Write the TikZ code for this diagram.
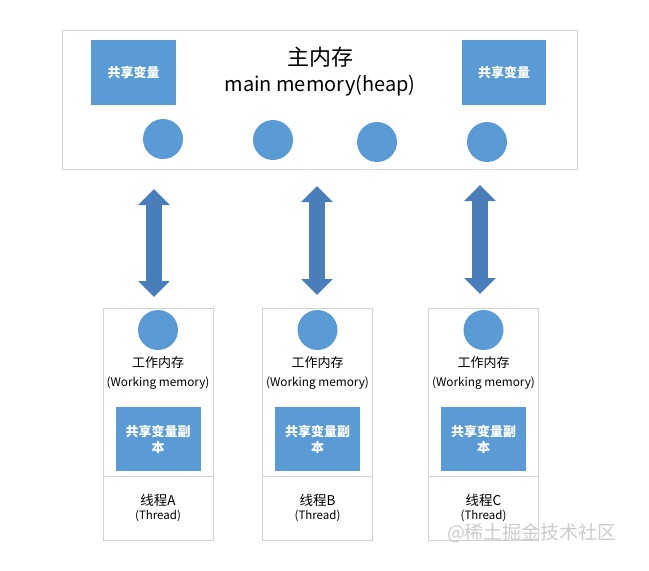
\documentclass[tikz,border=0pt]{standalone}
\usepackage{fontspec}
\setmainfont{Noto Sans CJK SC}
\usepackage{xcolor}
\usetikzlibrary{arrows.meta}
\definecolor{cellblue}{HTML}{5B9BD5}
\definecolor{arrowblue}{HTML}{4A7EBB}
\definecolor{boxgray}{HTML}{D2D2D2}
\newcommand{\fsz}[2]{\fontsize{#1}{#2}\selectfont}

\begin{document}
\begin{tikzpicture}[x=1pt,y=-1pt,
    frame/.style={draw=boxgray,line width=0.8pt},
    share/.style={fill=cellblue,text=white,align=center,inner sep=0pt},
    var/.style={circle,fill=cellblue,minimum size=40pt,inner sep=0pt},
    txt/.style={inner sep=0pt,align=center},
    biarrow/.style={arrowblue,line width=16pt,
      {Triangle[width=31pt,length=16pt]}-{Triangle[width=31pt,length=16pt]}}]
  \useasboundingbox (0,0) rectangle (649,571);
  % main memory
  \node[frame,minimum width=515pt,minimum height=139pt] (main) at (319.5,99.5) {};
  \node[txt,font=\fsz{22}{22}] (title) at (320,57) {主内存};
  \node[txt,font=\fsz{20}{20}] (heap) at (320,86) {main memory(heap)};
  \node[share,minimum width=85pt,minimum height=65pt,font=\fsz{13}{15}\bfseries] (sl) at (133.5,72.5) {共享变量};
  \node[share,minimum width=84pt,minimum height=65pt,font=\fsz{13}{15}\bfseries] (sr) at (504,72.5) {共享变量};
  \foreach \i/\vx/\vy in {1/163/139,2/273/140,3/377/142,4/487/142}{
    \node[var] (v\i) at (\vx,\vy) {};
  }
  % threads
  \foreach \n/\cx in {A/158,B/317.5,C/483.5}{
    \node[frame,minimum width=110pt,minimum height=232pt] (t\n) at (\cx,424) {};
    \node[var] (w\n) at (\cx,330) {};
    \node[txt,font=\fsz{13}{13}] (wt\n) at (\cx,363) {工作内存};
    \node[txt,font=\fsz{11.8}{12}] (we\n) at (\cx,383) {(Working memory)};
    \node[share,minimum width=85pt,minimum height=64pt,font=\fsz{13}{16}\bfseries] (c\n) at (\cx,439) {共享变量副\\本};
    \draw[frame] (t\n.west |- 0,476) -- (t\n.east |- 0,476);
    \node[txt,font=\fsz{13.5}{13.5}] (n\n) at (\cx,500) {线程\n};
    \node[txt,font=\fsz{11.5}{11.5}] (th\n) at (\cx,516) {(Thread)};
  }
  % arrows
  \foreach \n/\ax/\t/\b in {A/154/189/297,B/317/186/295,C/480/185/294}{
    \coordinate (u\n) at (\ax,\t);
    \coordinate (d\n) at (\ax,\b);
    \draw[biarrow] (u\n) -- (d\n);
  }
  \node[txt,text=gray!40,font=\fsz{19}{19}] (mark) at (532,533) {@稀土掘金技术社区};
\end{tikzpicture}
\end{document}
